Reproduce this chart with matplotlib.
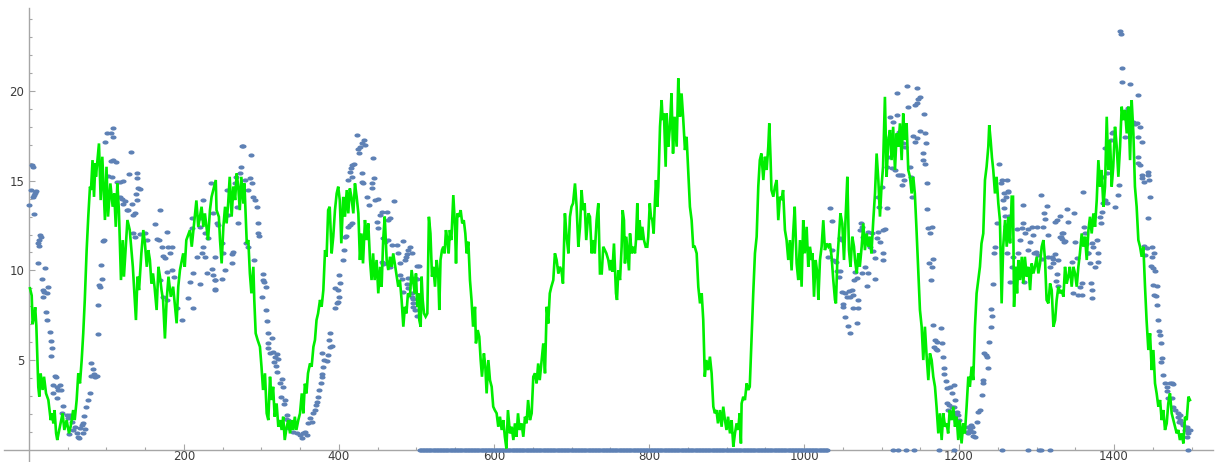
import numpy as np
import matplotlib
matplotlib.use("Agg")
import matplotlib.pyplot as plt
from matplotlib.path import Path

# Green trace: (x, y) vertices of the noisy line
green_trace = [
    (1.3, 9.0), (3.5, 8.6), (4.7, 7.0), (6.5, 7.4), (8.0, 7.95), (9.5, 6.9), (12, 3.5), (13.3, 2.96),
    (15, 4.26), (17.6, 3.33), (19.4, 4.07), (22, 3.14), (25, 2.77), (28, 1.65), (30, 2.03), (31.4, 1.47),
    (33, 2.21), (35, 0.91), (36.5, 0.54), (39, 1.1), (43.4, 2.03), (45.6, 1.1), (48.6, 1.65), (51.6, 0.91),
    (53.8, 1.3), (57, 2.21), (59, 1.65), (61.5, 2.77), (63.6, 4.26), (65.8, 3.7), (68, 5.0), (70, 6.49),
    (72, 8.35), (74.4, 11.13), (76.5, 13.0), (78.7, 14.67), (80, 14.48), (82, 16.15), (83.9, 14.1),
    (85.6, 15.97), (86.4, 15.22), (90.3, 17.08), (92.5, 13.92), (94.6, 16.34), (98, 12.81), (100, 15.78),
    (102, 13.0), (105, 14.85), (108, 13.55), (110, 14.29), (112, 12.43), (114, 14.85), (116, 13.36),
    (118.7, 9.46), (121, 11.69), (122.5, 9.65), (127, 12.81), (130, 12.25), (134, 10.2), (138, 7.23),
    (140, 9.65), (142, 8.9), (145, 10.95), (147.5, 12.25), (149.6, 11.5), (152, 10.2), (154, 11.13),
    (156, 10.58), (158, 9.27), (160, 9.83), (162, 9.09), (164.7, 7.79), (167, 10.2), (169, 9.65),
    (171, 8.9), (173, 8.35), (175.4, 6.2), (177.6, 8.35), (180, 9.65), (183, 8.53), (186, 9.09),
    (190.5, 7.05), (192.6, 9.09), (194.8, 10.02), (199, 10.95), (201, 10.2), (203, 11.69), (207.7, 12.25),
    (210, 11.32), (216, 13.9), (218.4, 12.43), (222.7, 13.55), (225, 12.43), (227, 13.18), (231, 11.69),
    (233.5, 13.36), (235.6, 14.1), (241, 15.04), (242, 13.36), (245, 12.99), (246.5, 11.69), (248.6, 10.39),
    (250.8, 12.43), (253, 13.55), (255, 12.62), (257, 13.74), (259, 15.22), (261.5, 13.0), (263.7, 14.67),
    (266, 13.92), (268, 15.41), (270, 14.67), (272, 13.36), (274, 15.22), (276.6, 13.74), (278, 14.85),
    (279.6, 13.0), (281, 11.5), (283, 11.69), (285, 9.83), (287, 8.72), (289.5, 10.2), (290.7, 8.35),
    (292.5, 6.49), (295, 6.12), (298, 5.74), (300, 4.63), (302, 3.33), (304.5, 4.26), (306.7, 2.03),
    (308.8, 1.65), (311, 4.07), (313, 2.77), (315, 3.51), (317, 1.84), (319.5, 2.58), (321.7, 1.28),
    (324, 1.65), (326, 1.1), (328, 1.84), (330, 0.54), (332.5, 1.28), (334.6, 1.65), (336.8, 0.91),
    (339, 1.65), (341, 1.1), (343, 1.84), (345, 1.1), (347.5, 1.65), (349.7, 2.03), (352, 3.14),
    (354, 2.03), (356, 3.68), (358, 3.14), (360, 4.26), (362.6, 4.81), (364.7, 4.63), (367, 5.74),
    (369, 6.12), (371, 7.23), (373, 7.6), (375.5, 8.35), (377.6, 7.97), (379.8, 8.9), (382, 11.13),
    (384, 10.76), (386, 13.36), (388, 13.55), (390.5, 10.95), (392.6, 11.88), (394.8, 13.36), (397, 14.29),
    (399, 14.67), (401, 13.92), (403, 11.51), (405.5, 14.1), (407.7, 12.99), (410, 14.48), (412, 13.18),
    (414, 14.57), (416, 14.1), (418.5, 13.18), (420.6, 14.85), (422.8, 14.1), (425, 13.18), (427, 10.58),
    (429, 12.06), (431, 10.39), (433.5, 12.81), (435.6, 11.69), (437.8, 12.62), (440, 10.58), (442, 9.46),
    (444, 10.95), (446, 9.46), (448.5, 10.58), (450.7, 8.72), (453, 10.2), (455, 9.09), (457, 11.69),
    (459, 13.0), (461.5, 10.58), (463.6, 10.02), (465.8, 10.76), (468, 10.2), (470, 10.95), (472, 10.39),
    (474, 9.83), (476.5, 9.09), (478.6, 9.46), (480.8, 8.35), (483, 6.86), (485, 7.97), (487, 7.6),
    (489, 8.72), (491.5, 8.53), (493.7, 10.02), (496, 9.27), (498, 8.72), (499.3, 9.83), (501, 7.97),
    (502.4, 8.72), (503.6, 7.23), (505.4, 6.86), (506.6, 9.65), (508, 8.35), (509.7, 7.6), (511.8, 7.42),
    (514, 7.6), (516, 12.99), (518, 12.06), (520, 9.65), (521.7, 10.2), (523.9, 9.09), (526, 10.58),
    (528, 9.83), (529.4, 7.79), (531, 10.58), (532.9, 11.13), (534.6, 11.32), (536.3, 10.95), (538, 12.25),
    (539.8, 11.69), (541.5, 10.95), (543, 12.25), (545, 11.69), (547.5, 14.2), (549.7, 12.43), (551, 10.39),
    (552.7, 13.18), (554.8, 12.99), (557, 13.36), (559, 12.62), (561, 12.8), (563, 12.06), (564.7, 10.95),
    (566.9, 11.6), (569, 9.46), (571, 8.35), (573, 6.86), (575.5, 7.97), (576.7, 5.93), (579, 6.67),
    (581, 6.3), (582.8, 5.0), (584.5, 4.07), (587, 5.37), (588.8, 4.63), (590.5, 3.14), (592.7, 5.0),
    (594.8, 3.88), (597, 3.51), (599, 2.4), (601, 2.21), (603.4, 2.03), (605.5, 1.28), (607.7, 1.84),
    (609.9, 1.1), (612, 1.65), (614, 0.72), (616, 0.07), (618, 2.21), (620.6, 0.91), (622.8, 1.28),
    (625, 0.54), (627, 1.47), (629, 0.72), (631, 2.03), (633, 1.1), (635.6, 1.47), (637.8, 0.72),
    (640, 1.84), (642, 1.47), (644, 2.77), (646.4, 1.65), (648.6, 2.03), (650.7, 4.07), (652.9, 4.26),
    (655, 3.7), (657, 4.81), (659, 3.88), (661.5, 5.0), (663.6, 5.93), (665.8, 4.26), (668, 7.97),
    (670, 7.04), (672, 8.72), (674, 9.09), (676.5, 9.46), (678.6, 10.95), (680.8, 10.58), (683, 9.83),
    (685, 10.2), (687, 10.0), (689, 9.27), (691.5, 13.18), (693.7, 11.88), (696, 10.95), (698, 12.99),
    (700, 13.55), (702, 13.74), (704.5, 14.85), (706.6, 13.55), (708.8, 11.32), (711, 12.43), (713, 14.48),
    (715, 13.36), (717, 13.74), (719, 11.69), (721.7, 13.18), (723.8, 12.99), (726, 10.95), (728, 11.69),
    (730, 10.95), (732.4, 12.8), (734.6, 13.74), (736.7, 9.83), (739, 9.83), (741, 11.32), (743, 11.13),
    (745, 10.95), (747.5, 10.58), (749.6, 10.0), (751, 10.58), (752.7, 9.93), (754.8, 11.5), (756, 10.2),
    (757.4, 8.72), (758.7, 8.35), (760.4, 10.0), (762.6, 9.46), (764.7, 11.32), (766, 13.36), (767.7, 12.8),
    (769, 10.39), (770.7, 11.88), (772.4, 10.95), (774.2, 10.0), (775.5, 12.06), (777.6, 10.95),
    (779.8, 11.32), (781.9, 10.95), (783.2, 11.69), (784.9, 13.74), (786.2, 11.69), (787.9, 12.8),
    (789.6, 11.69), (791.4, 12.43), (793.5, 11.69), (795.7, 11.32), (797.8, 11.32), (799, 11.88),
    (801, 13.74), (802.5, 12.99), (804.3, 12.8), (806, 12.06), (807.7, 13.92), (809, 15.04), (810.7, 13.55),
    (812, 14.67), (814.2, 18.01), (816.3, 19.5), (817.6, 18.38), (819.3, 18.75), (821.5, 15.78),
    (822.8, 18.75), (824.9, 16.9), (827, 18.01), (829, 19.87), (831, 16.52), (833, 18.57), (835.7, 16.9),
    (837.8, 20.71), (840, 18.57), (842, 19.87), (844, 18.57), (846.4, 16.71), (848.5, 17.45), (850.7, 15.41),
    (852.8, 13.55), (855, 12.8), (857, 11.32), (859, 11.32), (861.5, 10.95), (863.6, 9.09), (865.8, 8.16),
    (868, 8.72), (870, 7.23), (872, 4.07), (874, 5.0), (876.5, 4.44), (878.6, 5.19), (880.8, 4.26),
    (883, 2.4), (885, 2.03), (887, 2.21), (889, 1.47), (891.5, 2.21), (893.7, 1.28), (895.8, 2.4),
    (898, 1.65), (900, 1.1), (902, 1.84), (904.5, 0.91), (906.6, 1.65), (908.8, 0.17), (910.9, 0.91),
    (913, 1.47), (915, 1.1), (917, 2.03), (918.6, 0.35), (919.5, 2.58), (921.6, 2.95), (923.8, 2.77),
    (926, 3.7), (928, 3.33), (930, 3.51), (932.4, 6.3), (934.5, 8.72), (936.7, 10.95), (938.9, 11.88),
    (941, 14.67), (943, 16.15), (945, 16.52), (947.5, 15.04), (949.6, 16.34), (951.8, 15.6), (953.9, 16.9),
    (955.2, 18.2), (956.9, 16.15), (958, 14.48), (960.4, 14.11), (962.5, 14.67), (964.7, 15.04),
    (966.8, 12.8), (969, 14.11), (971, 13.92), (973, 14.48), (975.4, 12.25), (977.5, 11.69), (979.7, 10.58),
    (981.8, 11.69), (984, 10.0), (986, 12.06), (988, 13.55), (990.5, 10.39), (992.6, 9.46), (994.8, 11.69),
    (996.9, 9.09), (999, 12.8), (1001, 10.95), (1003.4, 12.43), (1005.5, 10.2), (1007.7, 11.32),
    (1009.9, 10.58), (1011, 10.95), (1012.9, 8.53), (1015, 10.58), (1017.2, 9.83), (1018.5, 8.35),
    (1020.6, 10.58), (1022.7, 11.32), (1024.9, 12.8), (1027, 11.13), (1029, 11.5), (1031.4, 11.32),
    (1033.5, 11.5), (1035.6, 10.76), (1037.8, 9.46), (1040, 8.35), (1041.2, 8.16), (1043, 10.58),
    (1045, 11.88), (1047, 13.18), (1049.4, 12.62), (1051.6, 10.58), (1053.7, 12.99), (1055.9, 15.22),
    (1058, 11.13), (1060, 10.2), (1062.3, 11.88), (1064.5, 11.32), (1065.8, 10.58), (1068, 9.83),
    (1070, 10.95), (1072, 10.2), (1074.4, 11.32), (1076.5, 12.62), (1078.6, 11.13), (1080.8, 12.06),
    (1083, 11.32), (1085, 11.88), (1087, 10.95), (1089.4, 12.8), (1091.6, 14.29), (1093.7, 16.52),
    (1095.9, 15.04), (1098, 13.0), (1100, 14.67), (1102, 15.78), (1104.4, 19.68), (1106.6, 15.22),
    (1108.8, 17.27), (1110.9, 17.83), (1113, 16.15), (1115, 18.01), (1117.4, 15.6), (1119.5, 17.64),
    (1121.7, 16.9), (1123.8, 18.2), (1126, 16.15), (1128, 18.75), (1130, 17.27), (1132.4, 18.2),
    (1134.5, 15.6), (1136.7, 15.22), (1138.9, 14.29), (1141, 15.22), (1143, 14.29), (1145, 12.43),
    (1147.5, 9.83), (1149.6, 7.79), (1151.8, 6.86), (1153.9, 5.0), (1156, 6.86), (1158, 5.37),
    (1160.4, 3.88), (1162.5, 5.37), (1164.7, 5.0), (1166.8, 4.07), (1169, 3.51), (1171, 2.4),
    (1173.3, 0.91), (1175.4, 2.03), (1177.6, 0.54), (1179.7, 2.03), (1181.9, 1.28), (1184, 1.47),
    (1186, 0.91), (1188, 2.21), (1190.5, 1.65), (1192.6, 2.4), (1194.8, 1.28), (1196.9, 1.84), (1199, 0.54),
    (1201, 1.65), (1203.3, 0.35), (1205.5, 1.47), (1207.6, 0.91), (1209.8, 2.4), (1212, 4.07), (1214, 3.51),
    (1216.3, 4.63), (1218.4, 3.88), (1220.6, 6.86), (1222.7, 8.72), (1224.9, 9.46), (1227, 10.2),
    (1229, 11.5), (1231.3, 12.06), (1233.5, 15.04), (1235.6, 15.78), (1237.8, 16.9), (1239, 18.1),
    (1240.8, 17.27), (1242.5, 16.3), (1244.2, 15.6), (1246.4, 14.29), (1248.5, 15.22), (1250.7, 13.74),
    (1252.8, 12.8), (1255, 8.16), (1257, 11.32), (1259.4, 12.81), (1261.6, 11.32), (1263.7, 12.99),
    (1265.9, 11.51), (1268, 14.11), (1269.7, 14.11), (1271, 7.97), (1273, 10.2), (1274.9, 8.72),
    (1276.6, 10.58), (1278.8, 9.46), (1281, 10.76), (1283, 9.27), (1285, 10.76), (1287.4, 9.65),
    (1289.5, 10.2), (1291.7, 8.9), (1293.8, 10.39), (1296, 9.83), (1298, 10.2), (1300.3, 10.76),
    (1302.4, 9.83), (1304.6, 10.39), (1306.7, 11.32), (1308.9, 11.69), (1311, 10.58), (1313, 8.35),
    (1315.3, 8.16), (1317.5, 9.27), (1319.6, 8.9), (1321.8, 6.86), (1324, 7.23), (1326, 8.35),
    (1328.2, 9.09), (1330.4, 8.72), (1332.5, 8.9), (1334.7, 8.53), (1336.8, 10.2), (1339, 9.27),
    (1341, 9.65), (1343, 10.2), (1345.4, 9.09), (1347.6, 10.2), (1349.7, 9.83), (1351.9, 9.09),
    (1354, 10.2), (1356, 10.95), (1358.3, 12.06), (1360.5, 11.32), (1362.6, 11.88), (1364.8, 10.58),
    (1367, 12.25), (1369, 12.99), (1371.2, 12.06), (1373.4, 13.18), (1375.5, 12.43), (1377.7, 13.92),
    (1379.8, 16.15), (1382, 14.67), (1384, 15.6), (1386.3, 13.55), (1388.4, 14.67), (1390.6, 18.57),
    (1392.7, 15.6), (1394.9, 17.27), (1397, 14.67), (1399, 15.78), (1401.3, 18.01), (1403.5, 16.9),
    (1405.6, 15.22), (1407.8, 16.9), (1409.9, 19.13), (1412, 18.38), (1414.2, 18.94), (1416.4, 17.64),
    (1418.5, 19.13), (1420.7, 16.15), (1422.8, 19.5), (1425, 17.64), (1427, 14.67), (1429.2, 13.55),
    (1431.4, 11.69), (1433.6, 11.32), (1435.7, 10.76), (1437.9, 11.32), (1440, 9.09), (1442, 7.23),
    (1444.3, 5.56), (1446.5, 6.49), (1448.6, 4.44), (1450.8, 5.56), (1452.9, 3.7), (1455, 3.14),
    (1457.2, 2.4), (1459.4, 2.77), (1461.5, 1.65), (1463.7, 2.21), (1465.8, 1.1), (1468, 1.47),
    (1470, 2.58), (1472.2, 3.14), (1474.4, 2.03), (1476.6, 1.65), (1478.7, 1.28), (1480.9, 0.91),
    (1483, 1.1), (1485, 0.54), (1487.3, 0.91), (1489.5, 0.35), (1491.6, 1.84), (1493.8, 1.65),
    (1496, 2.96), (1498, 2.77),
]

# Blue sample points (non-zero readings)
blue_pts = [
    (3.4, 15.87), (4.7, 15.78), (2.2, 14.48), (0.4, 13.64), (6.5, 14.2), (7.7, 14.29), (9.0, 14.44),
    (5.6, 14.1), (6.5, 13.14), (14.2, 11.97), (13.3, 11.69), (12.0, 11.54), (12.9, 11.36), (15.0, 11.84),
    (12.0, 10.39), (20.6, 10.11), (17.2, 9.5), (18.5, 8.9), (19.4, 8.81), (17.6, 8.49), (24.9, 9.05),
    (22.8, 8.75), (21.9, 7.7), (22.8, 7.23), (27.1, 6.54), (28.4, 6.08), (29.2, 5.65), (28.4, 5.22),
    (33.5, 4.11), (34.8, 4.03), (31.4, 3.61), (36.6, 3.48), (40.0, 3.61), (30.5, 3.14), (37.8, 3.33),
    (40.9, 3.33), (35.7, 2.9), (44.3, 2.43), (42.1, 2.03), (48.6, 1.93), (52.9, 1.93), (50.7, 1.75),
    (52.0, 0.87), (55.0, 1.56), (57.2, 1.1), (59.3, 1.28), (61.5, 0.91), (63.6, 0.72), (64.9, 0.63),
    (65.8, 1.19), (67.9, 1.38), (70.1, 1.51), (72.2, 1.13), (71.0, 1.88), (69.2, 0.91), (73.5, 2.36),
    (76.5, 2.77), (78.7, 3.14), (79.6, 4.11), (82.1, 4.48), (83.9, 4.22), (85.1, 4.07), (88.2, 4.11),
    (79.6, 4.81), (88.6, 6.45), (89.4, 8.07), (90.7, 9.18), (91.6, 9.09), (93.7, 9.52), (92.5, 10.3),
    (95.0, 11.65), (96.8, 11.69), (98.0, 17.16), (101.1, 17.68), (106.2, 17.68), (107.9, 17.92),
    (108.8, 17.45), (105.4, 16.1), (108.8, 16.15), (112.2, 16.06), (102.3, 15.26), (106.6, 15.19),
    (117.4, 14.94), (121.7, 15.0), (113.1, 14.94), (110.9, 14.11), (113.1, 14.11), (117.4, 14.11),
    (119.5, 13.96), (123.8, 13.87), (121.7, 13.7), (126.0, 13.36), (128.1, 13.36), (132.4, 13.7),
    (134.6, 13.09), (136.7, 13.18), (138.9, 13.92), (143.2, 14.52), (141.0, 14.57), (131.2, 16.62),
    (129.4, 15.37), (138.9, 15.13), (139.8, 15.45), (138.0, 14.26), (134.6, 12.1), (136.7, 11.88),
    (143.2, 12.03), (149.6, 12.1), (151.8, 11.69), (162.5, 12.58), (169.0, 13.36), (164.7, 11.73),
    (168.1, 11.69), (171.1, 11.32), (173.3, 10.8), (177.6, 12.16), (179.7, 11.28), (181.9, 10.95),
    (184.0, 11.32), (175.4, 10.67), (177.6, 9.93), (184.0, 10.02), (187.0, 9.65), (169.0, 9.46),
    (173.3, 8.53), (177.6, 8.35), (190.5, 7.88), (196.9, 7.23), (205.5, 8.44), (212.0, 7.88),
    (207.7, 9.37), (212.0, 9.83), (220.6, 9.24), (216.3, 10.76), (222.7, 10.95), (227.0, 10.76),
    (229.2, 9.87), (235.6, 10.06), (237.8, 9.74), (239.9, 9.46), (239.9, 8.94), (224.9, 11.32),
    (231.3, 11.78), (234.4, 14.85), (237.8, 13.18), (220.6, 12.43), (227.0, 12.06), (209.8, 12.34),
    (209.8, 12.9), (220.6, 12.9), (224.0, 13.92),
    (242.2, 12.62), (244.3, 12.53), (240.0, 10.76), (240.0, 9.46), (240.0, 8.9), (248.6, 11.51),
    (249.5, 9.5), (252.9, 10.02), (250.8, 10.95), (259.4, 13.92), (257.2, 13.09), (255.1, 14.48),
    (261.5, 10.39), (263.7, 11.04), (262.4, 10.91), (266.7, 15.22), (265.8, 14.85), (268.0, 13.55),
    (269.2, 12.62), (272.3, 15.41), (273.1, 15.78), (274.4, 16.93), (276.6, 16.93), (278.7, 15.04),
    (283.0, 14.48), (285.2, 15.13), (287.3, 14.89), (286.4, 16.43), (289.5, 14.07), (291.6, 13.92),
    (293.8, 13.55), (295.0, 12.62), (295.9, 12.1), (296.8, 11.91), (279.6, 11.51), (283.0, 11.32),
    (290.7, 10.58), (301.5, 9.8), (302.4, 9.46), (303.6, 9.37), (305.4, 9.05), (300.2, 8.53),
    (305.4, 7.79), (306.7, 7.19), (308.8, 6.49), (313.1, 6.21), (307.9, 5.93), (308.8, 5.65),
    (315.3, 5.46), (311.0, 5.37), (317.4, 5.19), (319.6, 5.33), (321.7, 5.04), (316.5, 4.91),
    (318.3, 4.67), (319.6, 4.35), (326.0, 3.92), (323.9, 3.7), (328.2, 3.48), (325.1, 2.96),
    (330.3, 2.77), (329.4, 2.55), (332.5, 1.93), (331.2, 1.69), (334.6, 1.65), (336.8, 1.56),
    (338.9, 1.38), (335.5, 1.19), (341.1, 1.0), (345.4, 0.91), (349.7, 0.82), (354.0, 0.91),
    (356.1, 1.0), (351.8, 0.63), (358.3, 0.82), (360.4, 1.47), (362.6, 1.75), (364.7, 1.56),
    (366.9, 2.03), (369.0, 2.21), (369.9, 2.49), (371.2, 2.68), (372.4, 2.96), (374.2, 3.33),
    (376.7, 3.74), (377.6, 4.07), (378.5, 4.22), (379.8, 4.63), (381.0, 5.0), (377.6, 5.37),
    (384.1, 4.96), (385.3, 5.28), (388.4, 5.74), (391.4, 5.78), (387.1, 6.12), (388.4, 6.49),
    (394.8, 7.88), (397.0, 8.16), (399.1, 8.25), (400.0, 8.53), (398.2, 8.9), (394.8, 9.0),
    (401.3, 9.28), (400.0, 9.74), (405.6, 10.58), (406.8, 11.13), (407.7, 11.88), (408.6, 11.91),
    (411.1, 12.43), (414.2, 12.53), (417.2, 12.62), (412.0, 15.04), (416.3, 15.22), (414.2, 15.5),
    (417.2, 15.87), (419.7, 15.93), (415.4, 15.69), (422.8, 17.55), (424.9, 16.75), (427.1, 16.9),
    (429.2, 17.08), (433.5, 16.99), (432.6, 17.3), (425.8, 16.52), (429.2, 15.41), (431.4, 14.85),
    (429.2, 14.94), (444.3, 16.25), (442.1, 14.85), (445.5, 15.13), (442.1, 14.57), (435.7, 14.11),
    (438.7, 13.64), (446.4, 13.92), (450.7, 13.96), (455.0, 13.27), (461.5, 13.27), (463.6, 12.81),
    (465.8, 12.9), (471.3, 13.88), (452.9, 13.09), (448.6, 12.71), (449.8, 12.34), (457.2, 11.78),
    (459.3, 11.6), (463.6, 11.69), (467.9, 11.41), (474.4, 11.41), (475.6, 10.95), (483.0, 11.65),
    (486.0, 10.76), (487.3, 10.91), (489.4, 11.13), (491.6, 11.32), (493.7, 10.95), (485.1, 10.58),
    (478.7, 10.39), (461.5, 10.43), (465.8, 10.2), (457.2, 10.35), (455.0, 10.48), (478.7, 9.74),
    (481.7, 9.5), (487.3, 9.24), (489.4, 9.0), (493.7, 8.53), (495.9, 7.97), (483.0, 8.81), (489.4, 9.55),
    (501.1, 10.24), (503.6, 10.24), (498.0, 9.55), (500.2, 9.5), (493.8, 8.72), (495.9, 8.38),
    (495.0, 8.2), (498.0, 7.79), (500.2, 7.45),
    (1033.5, 13.46), (1036.5, 12.77), (1046.4, 11.78), (1048.6, 11.69), (1035.7, 11.13), (1037.8, 10.58),
    (1041.2, 10.48), (1031.4, 10.76), (1043.0, 9.96), (1046.4, 9.96), (1045.5, 9.61), (1049.4, 8.81),
    (1052.9, 8.72), (1058.4, 8.87), (1061.4, 8.9), (1055.0, 8.49), (1059.3, 8.53), (1063.6, 8.62),
    (1050.7, 8.12), (1070.1, 8.35), (1052.9, 7.42), (1050.7, 7.94), (1063.6, 7.88), (1070.1, 7.88),
    (1057.2, 6.9), (1059.3, 6.49), (1068.8, 7.04), (1064.5, 9.46), (1067.9, 9.55), (1065.8, 9.93),
    (1074.4, 9.83), (1078.7, 10.17), (1083.0, 9.83), (1080.8, 9.13), (1091.6, 9.5), (1073.5, 12.66),
    (1072.2, 12.25), (1076.5, 11.88), (1074.4, 12.43), (1083.0, 12.16), (1087.3, 12.1), (1085.1, 11.32),
    (1088.5, 11.1), (1091.6, 10.67), (1093.7, 11.78), (1098.0, 11.6), (1095.9, 12.16), (1101.4, 12.25),
    (1104.5, 12.29), (1102.3, 10.99), (1101.4, 10.58), (1097.1, 13.55), (1100.2, 14.67), (1106.6, 13.46),
    (1095.9, 14.11), (1108.8, 16.34), (1107.5, 15.78), (1110.9, 18.57), (1115.2, 18.29), (1119.5, 18.66),
    (1120.4, 19.87), (1123.0, 17.73), (1110.9, 17.45), (1113.1, 15.69), (1117.4, 15.59), (1121.7, 15.32),
    (1123.8, 15.32), (1126.0, 15.32), (1126.0, 14.76), (1129.0, 15.04), (1130.3, 16.9), (1128.1, 17.12),
    (1133.3, 20.28), (1134.6, 19.09), (1141.0, 17.49), (1145.3, 20.17), (1143.2, 19.22), (1146.2, 19.31),
    (1147.5, 19.54), (1149.6, 19.68), (1145.3, 17.36), (1143.2, 17.17), (1149.6, 17.79), (1156.1, 17.64),
    (1157.3, 17.12), (1154.8, 18.72), (1153.9, 16.52), (1153.0, 16.15), (1156.1, 15.93), (1136.7, 15.78),
    (1137.6, 15.22), (1138.9, 14.07), (1158.2, 14.89), (1159.1, 13.4), (1160.4, 12.34), (1164.7, 12.43),
    (1162.5, 12.06), (1161.6, 10.39), (1166.8, 10.63), (1164.7, 10.17), (1163.4, 9.46), (1166.8, 6.95),
    (1169.0, 6.12), (1171.1, 6.02), (1167.7, 5.74), (1170.2, 5.59), (1176.3, 6.77), (1177.6, 5.97),
    (1178.8, 5.19), (1171.1, 5.56), (1180.6, 4.54), (1180.6, 4.22), (1183.1, 3.85), (1184.0, 3.42),
    (1188.3, 3.51), (1190.5, 3.18), (1193.5, 3.61), (1194.8, 2.77), (1184.9, 2.58), (1187.4, 2.49),
    (1190.5, 2.4), (1193.5, 2.4), (1191.7, 2.12), (1196.9, 2.12), (1199.0, 1.93), (1186.2, 2.21),
    (1190.5, 2.03), (1196.0, 1.99), (1200.3, 1.65), (1211.9, 1.28), (1214.1, 1.1), (1216.3, 1.25),
    (1218.4, 1.0), (1217.5, 0.76), (1211.9, 0.91), (1215.0, 1.38), (1220.6, 0.72), (1209.8, 1.0),
    (1222.7, 1.56), (1224.9, 2.12), (1227.0, 2.21), (1229.2, 3.05), (1230.4, 3.88), (1231.3, 3.74),
    (1232.2, 5.37), (1234.7, 5.28), (1235.6, 5.19), (1237.8, 4.54), (1239.0, 6.02), (1240.8, 6.86),
    (1242.1, 7.45), (1241.6, 7.83), (1243.3, 9.24), (1245.1, 10.95), (1246.4, 11.32), (1248.5, 12.62),
    (1252.0, 15.93), (1255.0, 15.04), (1258.0, 14.29), (1253.7, 14.85), (1260.5, 14.11), (1257.1, 13.92),
    (1263.6, 14.39), (1258.0, 13.46), (1259.3, 13.03), (1261.4, 11.97), (1260.5, 12.47), (1264.8, 12.81),
    (1261.6, 15.04), (1262.8, 14.44), (1264.6, 13.03), (1263.7, 11.73), (1261.6, 10.95), (1265.9, 9.37),
    (1270.2, 10.76), (1268.9, 10.2), (1274.5, 12.29), (1278.8, 11.69), (1276.6, 10.95), (1280.9, 12.34),
    (1283.1, 13.64), (1283.1, 12.66), (1285.2, 12.06), (1284.3, 9.37), (1289.5, 12.29), (1291.7, 11.6),
    (1288.6, 11.13), (1293.8, 12.43), (1296.0, 11.97), (1297.2, 10.95), (1299.0, 11.04), (1300.3, 12.43),
    (1302.4, 10.86), (1305.8, 14.2), (1308.9, 12.4), (1307.6, 10.61), (1310.1, 13.18), (1313.2, 13.59),
    (1311.0, 12.84), (1314.4, 11.97), (1315.3, 10.76), (1317.5, 10.2), (1319.6, 10.76), (1321.8, 10.61),
    (1323.9, 10.91), (1326.1, 9.8), (1327.3, 9.13), (1324.8, 9.42), (1321.8, 10.39), (1328.2, 10.58),
    (1330.4, 11.88), (1331.6, 11.84), (1333.4, 11.73), (1334.7, 12.06), (1336.8, 11.65), (1339.0, 13.4),
    (1340.2, 12.71), (1323.9, 12.71), (1326.1, 12.81), (1330.4, 13.03), (1332.5, 12.06), (1336.0, 11.6),
    (1345.4, 10.48), (1347.6, 8.75), (1349.7, 11.6), (1348.8, 13.22), (1351.9, 10.67), (1353.1, 8.62),
    (1356.2, 9.09), (1358.3, 8.62), (1360.5, 14.39), (1361.7, 12.43), (1358.3, 9.28), (1362.6, 12.06),
    (1363.5, 11.47), (1366.0, 10.95), (1369.1, 10.39), (1371.2, 8.9), (1372.1, 8.44), (1370.3, 9.28),
    (1371.2, 11.51), (1366.9, 10.95), (1373.4, 11.32), (1375.5, 10.2), (1377.7, 11.69), (1379.8, 10.95),
    (1378.9, 10.48), (1382.0, 12.99), (1383.2, 12.66), (1384.1, 13.27), (1386.3, 13.74), (1388.4, 13.92),
    (1390.6, 13.74), (1386.3, 15.19), (1390.6, 15.41), (1388.4, 16.8), (1397.0, 17.64), (1396.1, 17.27),
    (1399.2, 17.73), (1401.3, 13.55), (1404.7, 14.2), (1406.5, 14.76), (1407.8, 23.36), (1409.0, 23.18),
    (1409.9, 21.26), (1410.8, 20.52), (1414.2, 18.9), (1414.2, 17.45), (1418.5, 19.03), (1420.7, 20.39),
    (1425.0, 18.29), (1427.1, 18.14), (1429.2, 18.2), (1430.5, 17.45), (1431.4, 19.78), (1433.6, 18.01),
    (1435.7, 17.17), (1430.5, 16.34), (1431.4, 15.97), (1433.6, 15.87), (1435.7, 15.13), (1436.6, 15.32),
    (1439.1, 14.94), (1443.4, 15.46), (1444.3, 15.32), (1445.6, 15.04), (1446.5, 14.11), (1444.3, 12.9),
    (1439.1, 11.36), (1442.2, 11.23), (1448.6, 11.28), (1452.0, 10.95), (1440.0, 10.86), (1448.6, 10.76),
    (1447.7, 10.24), (1450.8, 10.11), (1452.9, 9.98), (1450.8, 9.18), (1455.0, 9.13), (1452.0, 8.62),
    (1453.8, 8.57), (1455.0, 8.07), (1457.2, 7.23), (1458.1, 6.64), (1459.4, 6.39), (1460.6, 5.93),
    (1461.5, 5.09), (1460.6, 4.91), (1463.7, 4.16), (1465.8, 3.7), (1468.0, 3.51), (1472.2, 3.74),
    (1474.4, 3.7), (1476.6, 3.66), (1468.0, 3.29), (1474.4, 2.86), (1470.1, 2.86), (1476.6, 2.4),
    (1478.7, 2.21), (1483.0, 2.03), (1485.1, 1.93), (1482.1, 1.84), (1485.1, 1.65), (1487.3, 1.47),
    (1483.9, 1.56), (1489.5, 1.38), (1493.8, 1.28), (1498.1, 1.1), (1493.8, 0.72), (1496.0, 1.1),
    (1495.1, 0.95), (1492.2, 1.1),
]

# Blue readings equal to zero: one continuous run plus isolated samples
blue_zero_run = (504, 1030)
blue_zero_x = [1115, 1121, 1132, 1141.5, 1174, 1193.5, 1255.5, 1289, 1303, 1306, 1317, 1495]

x_labels = [200, 400, 600, 800, 1000, 1200, 1400]
y_labels = [5, 10, 15, 20]

AXIS_GRAY = "#a6a6a6"
TEXT_GRAY = "#3c3c3c"
BLUE = "#5e81b5"
GREEN = "#00ee00"

fig = plt.figure(figsize=(12.15, 4.62), dpi=100)
ax = fig.add_axes([0, 0, 1, 1])
ax.set_facecolor("white")
ax.set_xlim(-37.4, 1530.3)
ax.set_ylim(-0.686, 25.08)

# elliptical point marker
t = np.linspace(0, 2 * np.pi, 41)
ellipse = Path(np.column_stack([np.cos(t), 0.68 * np.sin(t)]), closed=True)

bx, by = zip(*blue_pts)
zero_x = np.concatenate([np.arange(blue_zero_run[0], blue_zero_run[1] + 1, 2),
                         np.asarray(blue_zero_x, dtype=float)])
ax.plot(bx, by, linestyle="none", marker=ellipse, markersize=4.4,
        color=BLUE, markeredgewidth=0, zorder=3)
ax.plot(zero_x, np.zeros_like(zero_x), linestyle="none", marker=ellipse,
        markersize=4.4, color=BLUE, markeredgewidth=0, zorder=3)

gx, gy = zip(*green_trace)
ax.plot(gx, gy, color=GREEN, linewidth=1.9, solid_joinstyle="miter", zorder=4)

# axes through the origin, Mathematica style
for side in ("top", "right"):
    ax.spines[side].set_visible(False)
ax.spines["bottom"].set_position(("data", 0))
ax.spines["left"].set_position(("data", 0))
ax.spines["bottom"].set_bounds(-32, 1528)
ax.spines["left"].set_bounds(-0.686, 24.63)
for side in ("bottom", "left"):
    ax.spines[side].set_color(AXIS_GRAY)
    ax.spines[side].set_linewidth(1.0)
    ax.spines[side].set_zorder(2)

ax.set_xticks(x_labels)
ax.set_xticklabels([str(v) for v in x_labels])
ax.set_xticks(np.arange(50, 1501, 50), minor=True)
ax.set_yticks(y_labels)
ax.set_yticklabels([str(v) for v in y_labels])
ax.set_yticks(np.arange(1, 25, 1), minor=True)

ax.tick_params(axis="both", which="both", direction="in", color=AXIS_GRAY,
               labelcolor=TEXT_GRAY, labelsize=8.5, width=0.8)
ax.tick_params(axis="both", which="major", length=4.0)
ax.tick_params(axis="both", which="minor", length=2.4)
ax.tick_params(axis="x", which="major", pad=0.3)
ax.tick_params(axis="y", which="major", pad=3.5)

fig.savefig("out.png", dpi=100, facecolor="white")
